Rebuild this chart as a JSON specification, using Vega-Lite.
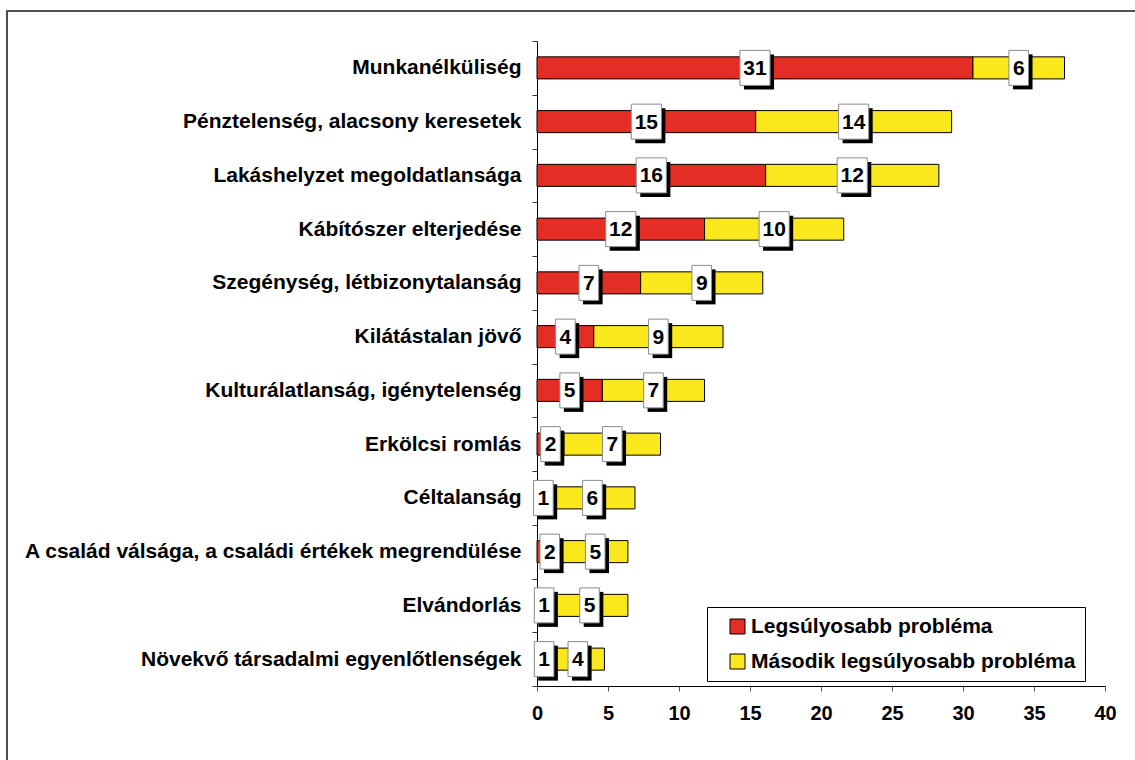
{
  "$schema": "https://vega.github.io/schema/vega-lite/v6.json",
  "autosize": "none",
  "width": 1140,
  "height": 760,
  "padding": {"left": 7, "top": 11, "right": 0, "bottom": 0},
  "background": "white",
  "config": {
    "view": {"stroke": "#505050", "strokeWidth": 2, "fill": "white"},
    "font": "Liberation Sans"
  },
  "data": {
    "values": [
      {"cat": "Munkanélküliség", "series": "Legsúlyosabb probléma", "value": 30.7},
      {"cat": "Munkanélküliség", "series": "Második legsúlyosabb probléma", "value": 6.45},
      {"cat": "Pénztelenség, alacsony keresetek", "series": "Legsúlyosabb probléma", "value": 15.4},
      {"cat": "Pénztelenség, alacsony keresetek", "series": "Második legsúlyosabb probléma", "value": 13.8},
      {"cat": "Lakáshelyzet megoldatlansága", "series": "Legsúlyosabb probléma", "value": 16.1},
      {"cat": "Lakáshelyzet megoldatlansága", "series": "Második legsúlyosabb probléma", "value": 12.2},
      {"cat": "Kábítószer elterjedése", "series": "Legsúlyosabb probléma", "value": 11.8},
      {"cat": "Kábítószer elterjedése", "series": "Második legsúlyosabb probléma", "value": 9.8},
      {"cat": "Szegénység, létbizonytalanság", "series": "Legsúlyosabb probléma", "value": 7.3},
      {"cat": "Szegénység, létbizonytalanság", "series": "Második legsúlyosabb probléma", "value": 8.6},
      {"cat": "Kilátástalan jövő", "series": "Legsúlyosabb probléma", "value": 4.0},
      {"cat": "Kilátástalan jövő", "series": "Második legsúlyosabb probléma", "value": 9.1},
      {"cat": "Kulturálatlanság, igénytelenség", "series": "Legsúlyosabb probléma", "value": 4.6},
      {"cat": "Kulturálatlanság, igénytelenség", "series": "Második legsúlyosabb probléma", "value": 7.2},
      {"cat": "Erkölcsi romlás", "series": "Legsúlyosabb probléma", "value": 1.9},
      {"cat": "Erkölcsi romlás", "series": "Második legsúlyosabb probléma", "value": 6.8},
      {"cat": "Céltalanság", "series": "Legsúlyosabb probléma", "value": 0.9},
      {"cat": "Céltalanság", "series": "Második legsúlyosabb probléma", "value": 6.0},
      {"cat": "A család válsága, a családi értékek megrendülése", "series": "Legsúlyosabb probléma", "value": 1.8},
      {"cat": "A család válsága, a családi értékek megrendülése", "series": "Második legsúlyosabb probléma", "value": 4.6},
      {"cat": "Elvándorlás", "series": "Legsúlyosabb probléma", "value": 1.0},
      {"cat": "Elvándorlás", "series": "Második legsúlyosabb probléma", "value": 5.4},
      {"cat": "Növekvő társadalmi egyenlőtlenségek", "series": "Legsúlyosabb probléma", "value": 1.0},
      {"cat": "Növekvő társadalmi egyenlőtlenségek", "series": "Második legsúlyosabb probléma", "value": 3.75}
    ]
  },
  "transform": [
    {"stack": "value", "groupby": ["cat"], "sort": [{"field": "series", "order": "ascending"}], "as": ["v0", "v1"]}
  ],
  "encoding": {
    "y": {
      "field": "cat", "type": "nominal", "sort": null, "title": null,
      "scale": {"range": [30, 675], "paddingInner": 0, "paddingOuter": 0},
      "axis": {
        "orient": "left", "offset": -530, "ticks": true, "tickBand": "extent",
        "domainColor": "#000000", "domainWidth": 1,
        "tickColor": "#333333", "tickSize": 5, "tickWidth": 1,
        "labelFont": "Liberation Sans", "labelFontWeight": "bold", "labelFontSize": 21,
        "labelColor": "#000000", "labelPadding": 11, "labelLimit": 700, "grid": false
      }
    }
  },
  "layer": [
    {
      "mark": {"type": "bar", "stroke": "#000000", "strokeWidth": 1, "height": {"band": 0.41}},
      "encoding": {
        "x": {
          "field": "v0", "type": "quantitative", "title": null,
          "scale": {"domain": [0, 40], "range": [530, 1098], "nice": false, "zero": true},
          "axis": {
            "orient": "bottom", "offset": -85, "values": [0, 5, 10, 15, 20, 25, 30, 35, 40],
            "domainColor": "#000000", "domainWidth": 1, "ticks": true,
            "tickColor": "#555555", "tickSize": 5, "tickWidth": 1,
            "labelFont": "Liberation Sans", "labelFontWeight": "bold", "labelFontSize": 20,
            "labelColor": "#000000", "labelPadding": 12, "grid": false, "labelFlush": false
          }
        },
        "x2": {"field": "v1"},
        "color": {
          "field": "series", "type": "nominal", "title": null,
          "scale": {"domain": ["Legsúlyosabb probléma", "Második legsúlyosabb probléma"], "range": ["#E42D24", "#FAE81C"]},
          "legend": {
            "orient": "none", "legendX": 700, "legendY": 596,
            "fillColor": "white", "strokeColor": "#000000", "padding": 9,
            "symbolType": "square", "symbolSize": 225, "symbolStrokeColor": "#000000", "symbolStrokeWidth": 1,
            "symbolOffset": 11, "labelOffset": 3,
            "labelFont": "Liberation Sans", "labelFontWeight": "bold", "labelFontSize": 21, "labelColor": "#000000",
            "labelLimit": 600, "rowPadding": 13
          }
        }
      }
    },
    {
      "transform": [
        {"fold": ["v0", "v1"], "as": ["edge", "pos"]},
        {"aggregate": [{"op": "mean", "field": "pos", "as": "mid"}], "groupby": ["cat", "series", "value"]}
      ],
      "layer": [
        {
          "mark": {"type": "point", "filled": true, "fill": "#000000", "opacity": 1, "size": 1225, "xOffset": 4, "yOffset": 4, "strokeWidth": 0},
          "encoding": {
            "x": {"field": "mid", "type": "quantitative", "title": null},
            "shape": {"condition": {"test": "datum.value >= 9.5", "value": "M-0.86,-1H0.86V1H-0.86Z"}, "value": "M-0.56,-1H0.56V1H-0.56Z"}
          }
        },
        {
          "mark": {"type": "point", "filled": true, "fill": "#FFFFFF", "opacity": 1, "size": 1225, "stroke": "#8a8a8a", "strokeWidth": 1},
          "encoding": {
            "x": {"field": "mid", "type": "quantitative", "title": null},
            "shape": {"condition": {"test": "datum.value >= 9.5", "value": "M-0.86,-1H0.86V1H-0.86Z"}, "value": "M-0.56,-1H0.56V1H-0.56Z"}
          }
        },
        {
          "mark": {"type": "text", "font": "Liberation Sans", "fontWeight": "bold", "fontSize": 21, "color": "#000000", "align": "center", "baseline": "middle", "dy": 1},
          "encoding": {
            "x": {"field": "mid", "type": "quantitative", "title": null},
            "text": {"field": "value", "type": "quantitative", "format": ".0f"}
          }
        }
      ]
    }
  ]
}
